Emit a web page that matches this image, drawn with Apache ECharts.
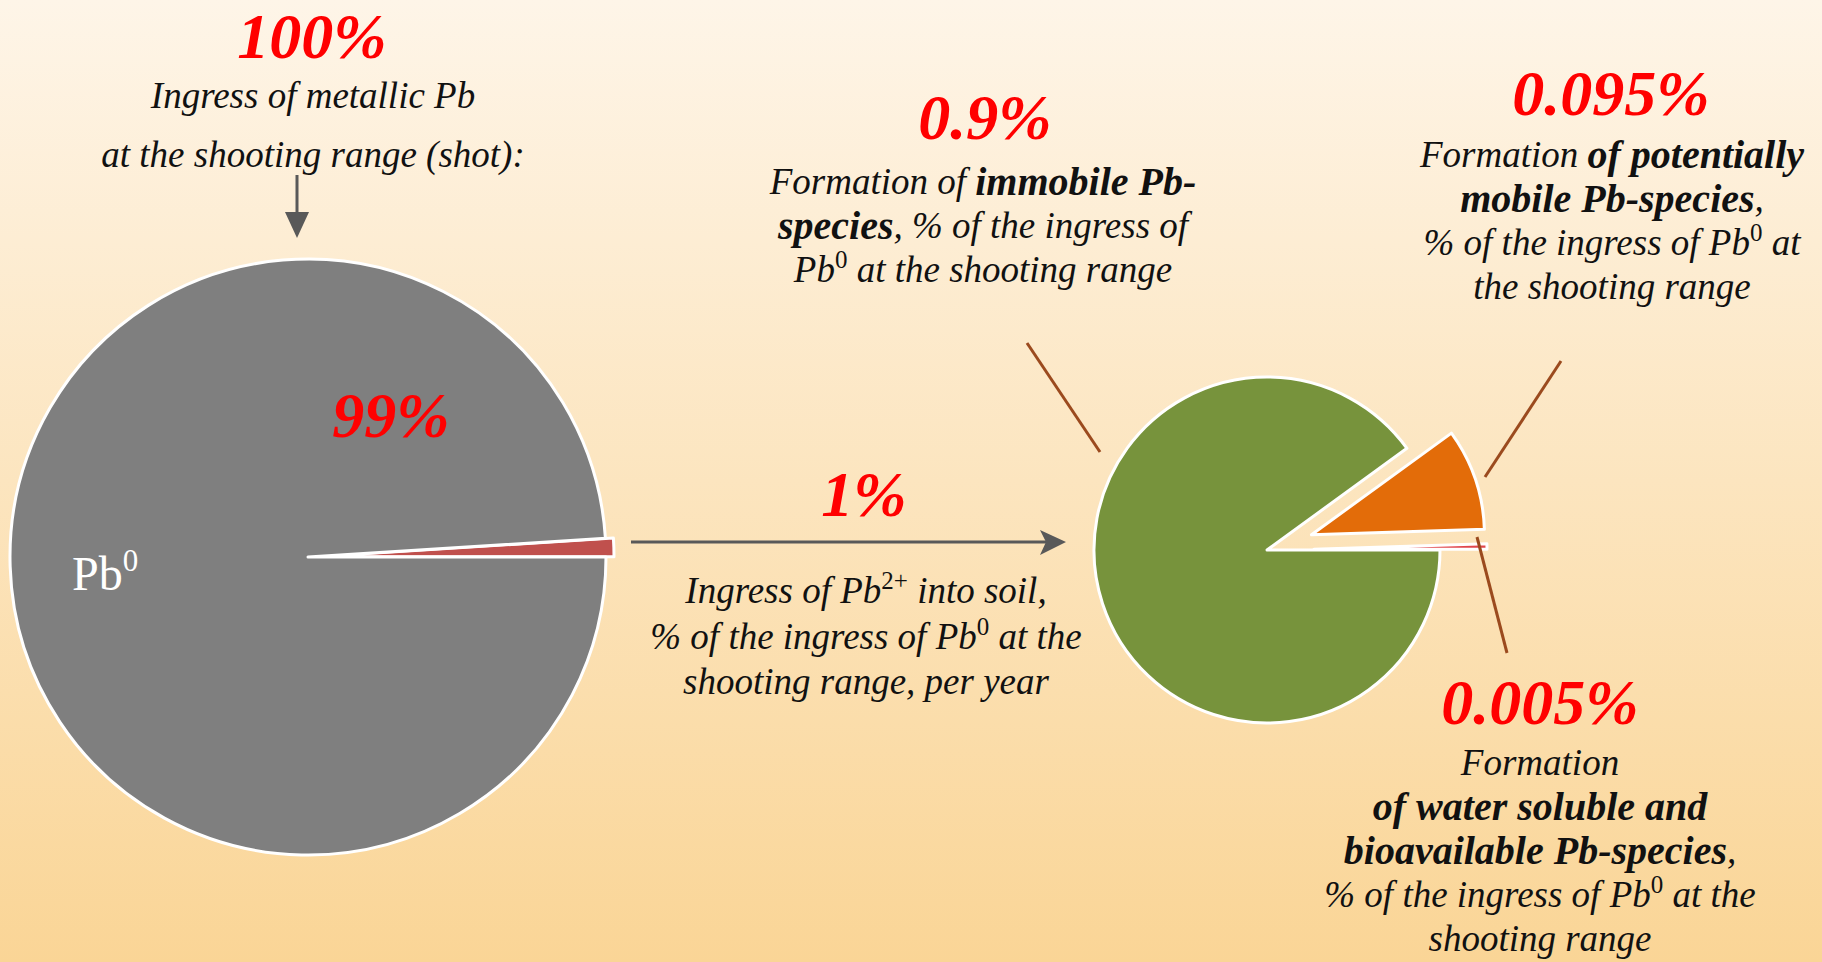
<!DOCTYPE html>
<html>
<head>
<meta charset="utf-8">
<script src="https://cdn.jsdelivr.net/npm/echarts/dist/echarts.min.js"></script>
<style>
  html, body { margin: 0; padding: 0; }
  body { background: linear-gradient(#FEF5E8, #FAD596); }
  #chart { width: 1822px; height: 962px; }
</style>
</head>
<body>
<div id="chart"></div>
<script>
// left pie: what happens to the shot, % of ingress
const leftNames = ['Pb2+ into soil', 'Pb0'];
const leftValues = [1, 99];
const leftColors = ['#C0504D', '#7F7F7F'];

// right pie: the 1% that goes into soil, split by species (% of total ingress)
const rightNames = ['water soluble and bioavailable Pb-species', 'potentially mobile Pb-species', 'immobile Pb-species'];
const rightValues = [0.005, 0.095, 0.9];
const rightColors = ['#E0474C', '#E36C09', '#77933C'];
const rightExploded = [true, true, false];

const total = leftValues[0] + leftValues[1];
const pct = v => v + '%';

const FONT = 'Liberation Serif';

function rich(lh) {
    return {
        n: { fontFamily: FONT, fontStyle: 'italic', fontSize: 37, lineHeight: lh, fill: '#111' },
        b: { fontFamily: FONT, fontStyle: 'italic', fontWeight: 'bold', fontSize: 40, lineHeight: lh, fill: '#111' },
        s: { fontFamily: FONT, fontSize: 25, lineHeight: 40, verticalAlign: 'top', fill: '#111' }
    };
}

// text block, centred on x, top at y
function block(x, y, lh, text) {
    return {
        type: 'text', x: x, y: y, z: 100, silent: true,
        style: {
            text: text, align: 'center', verticalAlign: 'top',
            textAlign: 'center', textVerticalAlign: 'top',
            fontFamily: FONT, fontSize: 37, fill: '#111',
            rich: rich(lh)
        }
    };
}

// the big red numbers
function bigNum(x, y, text) {
    return {
        type: 'text', x: x, y: y, z: 100, silent: true,
        style: {
            text: text, align: 'center', verticalAlign: 'middle',
            textAlign: 'center', textVerticalAlign: 'middle',
            fontFamily: FONT, fontStyle: 'italic', fontWeight: 'bold', fontSize: 64,
            fill: '#FF0000'
        }
    };
}

function line(x1, y1, x2, y2, color) {
    return { type: 'line', z: 50, silent: true, shape: { x1, y1, x2, y2 }, style: { stroke: color, lineWidth: 3 } };
}

function head(points) {
    return { type: 'polygon', z: 50, silent: true, shape: { points: points }, style: { fill: '#595959' } };
}

let myChart = echarts.init(document.getElementById('chart'), null, { renderer: 'svg' });

option = {
    backgroundColor: 'transparent',
    animation: false,
    series: [
        {
            name: 'Ingress of metallic Pb',
            type: 'pie',
            center: [308, 557],
            radius: 298,
            startAngle: 0,
            clockwise: false,
            selectedMode: 'multiple',
            selectedOffset: 8,
            silent: true,
            label: { show: false },
            labelLine: { show: false },
            emphasis: { disabled: true },
            itemStyle: { borderColor: '#FFFFFF', borderWidth: 3 },
            select: { itemStyle: { borderColor: '#FFFFFF', borderWidth: 3 } },
            data: leftValues.map((v, i) => ({
                name: leftNames[i], value: v, selected: i === 0,
                itemStyle: { color: leftColors[i] }
            }))
        },
        {
            name: 'Ingress of Pb2+ into soil',
            type: 'pie',
            center: [1267, 550],
            radius: 173,
            startAngle: 0,
            clockwise: false,
            selectedMode: 'multiple',
            selectedOffset: 47,
            silent: true,
            label: { show: false },
            labelLine: { show: false },
            emphasis: { disabled: true },
            itemStyle: { borderColor: '#FFFFFF', borderWidth: 3 },
            select: { itemStyle: { borderColor: '#FFFFFF', borderWidth: 3 } },
            data: rightValues.map((v, i) => ({
                name: rightNames[i], value: v, selected: rightExploded[i],
                itemStyle: { color: rightColors[i] }
            }))
        }
    ],
    graphic: [
        // red percentages
        bigNum(312, 36, pct(total)),
        bigNum(391, 415, pct(leftValues[1])),
        bigNum(864, 494, pct(leftValues[0])),
        bigNum(985, 117, pct(rightValues[2])),
        bigNum(1611, 93, pct(rightValues[1])),
        bigNum(1540, 702, pct(rightValues[0])),

        // Pb0 inside the grey slice
        {
            type: 'text', x: 72, y: 573, z: 100, silent: true,
            style: {
                text: '{m|Pb}{u|0}', align: 'left', verticalAlign: 'middle',
                textAlign: 'left', textVerticalAlign: 'middle',
                rich: {
                    m: { fontFamily: FONT, fontSize: 48, lineHeight: 56, fill: '#FFFFFF' },
                    u: { fontFamily: FONT, fontSize: 31, lineHeight: 48, verticalAlign: 'top', fill: '#FFFFFF' }
                }
            }
        },

        block(313, 66, 59, '{n|Ingress of metallic Pb}\n{n|at the shooting range (shot):}'),
        block(983, 159, 44, '{n|Formation of }{b|immobile Pb-}\n{b|species}{n|, % of the ingress of}\n{n|Pb}{s|0}{n| at the shooting range}'),
        block(1612, 132, 44, '{n|Formation }{b|of potentially}\n{b|mobile Pb-species}{n|,}\n{n|% of the ingress of Pb}{s|0}{n| at}\n{n|the shooting range}'),
        block(866, 568, 45.5, '{n|Ingress of Pb}{s|2+}{n| into soil,}\n{n|% of the ingress of Pb}{s|0}{n| at the}\n{n|shooting range, per year}'),
        block(1540, 740, 44, '{n|Formation}\n{b|of water soluble and}\n{b|bioavailable Pb-species}{n|,}\n{n|% of the ingress of Pb}{s|0}{n| at the}\n{n|shooting range}'),

        // arrows
        line(297, 175, 297, 222, '#595959'),
        head([[285, 212], [309, 212], [297, 238]]),
        line(631, 542, 1050, 542, '#595959'),
        head([[1040, 530], [1066, 542], [1040, 555], [1046, 542]]),

        // leader lines
        line(1027, 343, 1100, 452, '#9B4A1E'),
        line(1561, 361, 1485, 477, '#9B4A1E'),
        line(1477, 537, 1507, 653, '#9B4A1E')
    ]
};

myChart.setOption(option);
</script>
</body>
</html>
